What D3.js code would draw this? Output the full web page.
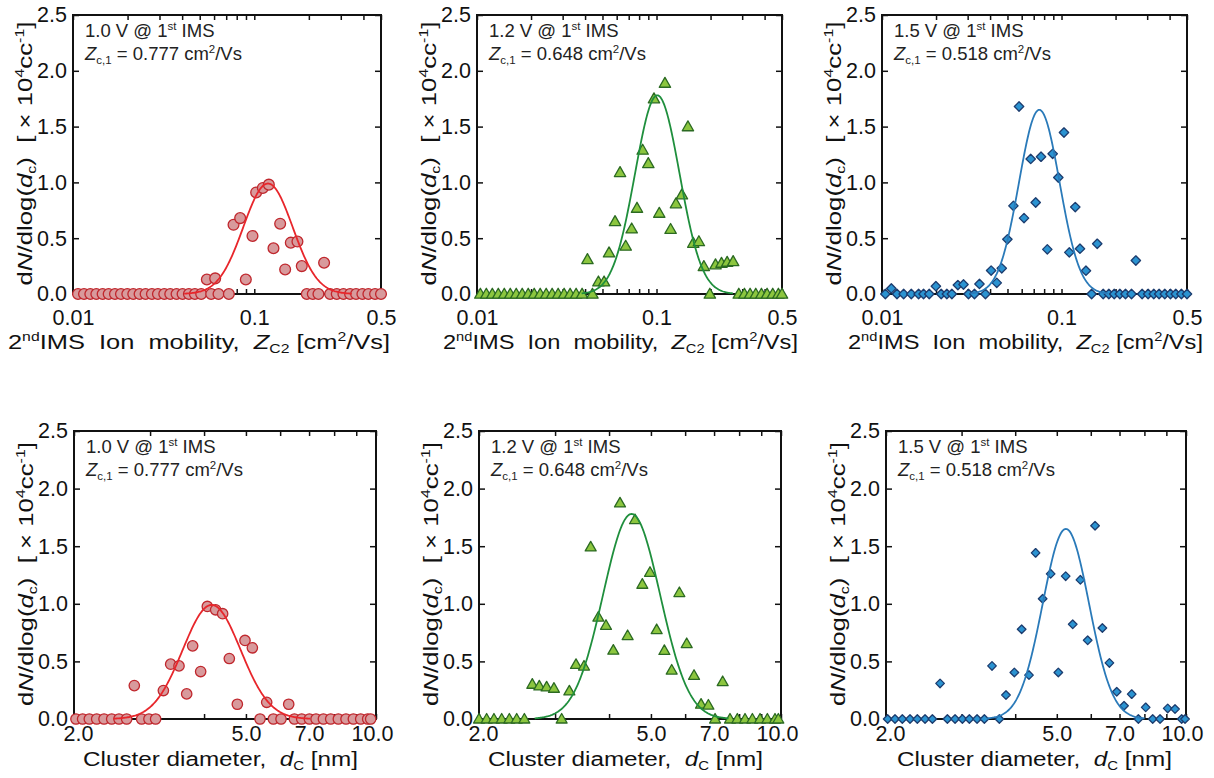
<!DOCTYPE html>
<html><head><meta charset="utf-8">
<script src="https://cdn.jsdelivr.net/npm/d3@7"></script>
<style>body{margin:0;background:#fff} text{white-space:pre}</style>
</head><body>
<svg id="chart" width="1214" height="778"></svg>
<script>
// ---------------- DATA ----------------
const yTicks = [0, 0.5, 1.0, 1.5, 2.0, 2.5];
const mobilityTicks = [0.01,0.02,0.03,0.04,0.05,0.06,0.07,0.08,0.09,0.1,0.2,0.3,0.4,0.5];
const mobilityLabelValues = [0.01, 0.1, 0.5];
const mobilityLabelTexts = ["0.01", "0.1", "0.5"];
const diameterTicks = [2,3,4,5,6,7,8,9,10];
const diameterLabelValues = [2, 5, 7, 10];
const diameterLabelTexts = ["2.0", "5.0", "7.0", "10.0"];
const voltages = ["1.0", "1.2", "1.5"];
const zc1Values = ["0.777", "0.648", "0.518"];

// [mobility Z_C2 (cm2/Vs), dN/dlog(dc) (x1e4 /cc)]
const mobility10 = [[0.01066,0],[0.0115,0],[0.01246,0],[0.01345,0],[0.01457,0],[0.01573,0],[0.01704,0],[0.01839,0],[0.01993,0],[0.0215,0],[0.0233,0],[0.02515,0],[0.02725,0],[0.02941,0],[0.03187,0],[0.03439,0],[0.03726,0],[0.04022,0],[0.04358,0],[0.04702,0],[0.05095,0],
 [0.05475,0.13],[0.05784,0],[0.06085,0.14],[0.06348,0],[0.07239,0],
 [0.07682,0.62],[0.08357,0.68],[0.08981,0.13],[0.09774,0.52],[0.1024,0.91],[0.1115,0.95],[0.1203,0.98],[0.1276,0.41],[0.1389,0.63],[0.148,0.22],[0.159,0.46],[0.173,0.47],[0.1828,0.25],
 [0.1948,0],[0.2102,0],[0.2259,0],[0.2427,0.28],
 [0.2619,0],[0.285,0],[0.3102,0],[0.3376,0],[0.3643,0],[0.3948,0],[0.426,0],[0.4637,0],[0.5,0]];
const mobility12 = [[0.01044,0],[0.01127,0],[0.01217,0],[0.01314,0],[0.01419,0],[0.01532,0],[0.01654,0],[0.01786,0],[0.01929,0],[0.02083,0],[0.02249,0],[0.02429,0],[0.02622,0],[0.02832,0],[0.03058,0],[0.03302,0],[0.03566,0],[0.0385,0],
 [0.04123,0.31],[0.04396,0],[0.04747,0.11],[0.05104,0.11],[0.0544,0.37],[0.05875,0.65],[0.06263,1.09],[0.06734,0.43],[0.07272,0.585],[0.07785,0.77],[0.08371,1.29],[0.09,1.17],[0.09679,1.75],[0.1036,0.725],[0.1114,1.89],[0.1198,0.58],[0.1283,0.81],[0.1385,0.89],[0.1496,1.5],[0.1602,0.456],[0.1722,0.47],[0.1835,0.248],[0.1982,0],[0.2131,0.263],[0.2301,0.277],[0.2474,0.286],[0.2672,0.292],
 [0.2873,0],[0.3088,0],[0.3321,0],[0.3571,0],[0.384,0],[0.4129,0],[0.444,0],[0.4773,0],[0.5,0]];
const mobility15 = [[0.01044,0],[0.01127,0.05],[0.01212,0],[0.0132,0],[0.01456,0],[0.01599,0],[0.01704,0],[0.01833,0],[0.01996,0.07],[0.02137,0],[0.02297,0],[0.0245,0],[0.02646,0.08],[0.02844,0.085],[0.03032,0],[0.03274,0],[0.03491,0.09],[0.03769,0],
 [0.04054,0.21],[0.04358,0.10],[0.04646,0.23],[0.04994,0.49],[0.05395,0.79],[0.05799,1.68],[0.06182,0.68],[0.06734,1.21],[0.0718,0.82],[0.07688,1.23],[0.08335,0.40],[0.08925,1.256],[0.09597,1.044],[0.1032,1.447],[0.1105,0.373],[0.1193,0.779],[0.1267,0.406],[0.1368,0.209],[0.1471,0],[0.1581,0.45],
 [0.1707,0],[0.1835,0],[0.1966,0],[0.2113,0],[0.2272,0],[0.2454,0],[0.2594,0.30],[0.2812,0],[0.3037,0],[0.3265,0],[0.3496,0],[0.376,0],[0.4044,0],[0.4328,0],[0.4653,0],[0.5,0]];

// [cluster diameter d_C (nm), dN/dlog(dc) (x1e4 /cc)]
const diameter10 = [[2.021,0],[2.094,0],[2.17,0],[2.257,0],[2.347,0],[2.445,0],[2.542,0],[2.648,0],[2.758,0.29],[2.868,0],[2.982,0],[3.09,0],
 [3.22,0.247],[3.348,0.476],[3.5,0.461],[3.646,0.218],[3.764,0.635],[3.928,0.412],[4.07,0.977],[4.255,0.948],[4.416,0.914],[4.576,0.525],[4.776,0.128],[4.975,0.682],[5.174,0.618],[5.39,0],[5.585,0.145],[5.787,0],[6.028,0],[6.28,0.128],
 [6.473,0],[6.731,0],[7.012,0],[7.265,0],[7.555,0],[7.855,0],[8.182,0],[8.523,0],[8.863,0],[9.217,0],[9.566,0],[9.72,0]];
const diameter12 = [[2.0,0],[2.083,0],[2.166,0],[2.257,0],[2.351,0],[2.445,0],[2.547,0],[2.657,0.302],[2.758,0.287],[2.868,0.279],[2.982,0.267],[3.107,0],
 [3.237,0.244],[3.354,0.474],[3.5,0.46],[3.627,1.494],[3.778,0.885],[3.935,0.813],[4.092,0.598],[4.24,1.876],[4.416,0.724],[4.593,1.73],[4.776,1.17],[4.975,1.273],[5.155,0.776],[5.371,0.595],[5.585,0.425],[5.818,1.098],[6.05,0.655],[6.291,0.379],[6.531,0.129],[6.791,0.121],[7.037,0],[7.328,0.325],
 [7.62,0],[7.924,0],[8.255,0],[8.585,0],[8.943,0],[9.299,0],[9.686,0],[9.859,0]];
const diameter15 = [[2.018,0],[2.099,0],[2.183,0],[2.275,0],[2.366,0],[2.466,0],[2.565,0],[2.673,0.309],[2.78,0],[2.897,0],[3.013,0],[3.128,0],[3.26,0],[3.39,0],
 [3.532,0.461],[3.674,0],[3.807,0.208],[3.982,0.404],[4.141,0.779],[4.307,0.381],[4.463,1.442],[4.634,1.044],[4.838,1.26],[5.041,0.404],[5.244,1.24],[5.446,0.822],[5.674,1.208],[5.901,0.683],[6.139,1.678],[6.385,0.79],[6.63,0.487],[6.896,0.236],[7.172,0.115],[7.473,0.216],
 [7.745,0],[8.056,0.101],[8.364,0],[8.7,0],[9.065,0.092],[9.428,0.0865],[9.77,0],[9.948,0]];

// Log-normal fit parameters (peak height, centre, sigma in log10 units)
const fitMobilityPeak = [0.99, 1.78, 1.65];
const fitMobilityCenter = [0.119, 0.101, 0.0752];
const fitMobilitySigma = [0.136, 0.124, 0.113];
const fitDiameterPeak = [0.99, 1.78, 1.65];
const fitDiameterCenter = [4.165, 4.51, 5.25];
const fitDiameterSigma = [0.067, 0.066, 0.054];

// ---------------- STYLE / LAYOUT ----------------
const FONT = "'Liberation Sans', Arial, Helvetica, sans-serif";
const styles = [
  {shape: "circle",  fill: "#d89a9c", stroke: "#c0272d", line: "#e8262b"},
  {shape: "triangle",fill: "#8cc63f", stroke: "#2b6a22", line: "#1f8f3d"},
  {shape: "diamond", fill: "#2b93d1", stroke: "#1c3c6e", line: "#2a7ab9"}
];
const topBoxes = [{l:73,t:15,r:381,b:294},{l:477,t:15,r:782,b:294},{l:882,t:15,r:1187,b:294}];
const botBoxes = [{l:74,t:431,r:376,b:719},{l:479,t:431,r:781,b:719},{l:886,t:431,r:1186,b:719}];
const topTitle = [{x:8,len:382},{x:443,len:355},{x:848,len:355}];
const botTitle = [{x:83,len:275},{x:488,len:275},{x:897,len:275}];

const mobilitySets = [mobility10, mobility12, mobility15];
const diameterSets = [diameter10, diameter12, diameter15];

const svg = d3.select("#chart");

function addRich(textSel, parts, fs) {
  let offset = 0;
  parts.forEach(p => {
    if (typeof p === "string") p = {t: p};
    const target = p.s === "sup" ? -fs * 0.38 : p.s === "sub" ? fs * 0.22 : 0;
    const ts = textSel.append("tspan").text(p.t);
    if (target - offset !== 0) ts.attr("dy", target - offset);
    offset = target;
    if (p.s) ts.attr("font-size", fs * 0.62);
    if (p.i) ts.attr("font-style", "italic");
  });
}

function markerPath(shape, cx, cy, sz) {
  if (shape === "triangle") {
    const w = sz * 1.05, h = sz * 0.92;
    return `M${cx},${cy - h * 0.58}L${cx + w / 2},${cy + h * 0.42}L${cx - w / 2},${cy + h * 0.42}Z`;
  }
  const r = sz * 0.5;
  return `M${cx},${cy - r}L${cx + r},${cy}L${cx},${cy + r}L${cx - r},${cy}Z`;
}

function drawPanel(box, opts) {
  const g = svg.append("g");
  const x = d3.scaleLog().domain(opts.domain).range([box.l, box.r]);
  const y = d3.scaleLinear().domain([0, 2.5]).range([box.b, box.t]);
  const st = styles[opts.idx];
  const labelMap = new Map(opts.labelValues.map((v, k) => [v, opts.labelTexts[k]]));

  // axes (ticks inward)
  const left = g.append("g").attr("transform", `translate(${box.l},0)`)
    .call(d3.axisLeft(y).tickValues(yTicks).tickSize(-6).tickPadding(6).tickFormat(d3.format(".1f")));
  const right = g.append("g").attr("transform", `translate(${box.r},0)`)
    .call(d3.axisRight(y).tickValues(yTicks).tickSize(-6).tickFormat(""));
  const bottom = g.append("g").attr("transform", `translate(0,${box.b})`)
    .call(d3.axisBottom(x).tickValues(opts.ticks).tickSize(-5).tickPadding(opts.pad).tickFormat(d => labelMap.get(d) || ""));
  const top = g.append("g").attr("transform", `translate(0,${box.t})`)
    .call(d3.axisTop(x).tickValues(opts.ticks).tickSize(-5).tickFormat(""));
  [left, right, bottom, top].forEach(a => {
    a.select(".domain").remove();
    a.attr("font-family", FONT).attr("font-size", 21.5);
    a.selectAll("line").attr("stroke", "#111").attr("stroke-width", 1.5);
    a.selectAll("text").attr("fill", "#111");
  });
  bottom.selectAll("text").attr("dx", d => d === opts.domain[0] ? opts.edgeShift : d === opts.domain[1] ? -opts.edgeShift : 0);

  // frame
  g.append("rect").attr("x", box.l).attr("y", box.t)
    .attr("width", box.r - box.l).attr("height", box.b - box.t)
    .attr("fill", "none").attr("stroke", "#111").attr("stroke-width", 2);

  // markers
  const mk = g.append("g");
  opts.data.forEach(d => {
    const cx = x(d[0]), cy = y(d[1]);
    if (st.shape === "circle") {
      mk.append("circle").attr("cx", cx).attr("cy", cy).attr("r", opts.size / 2)
        .attr("fill", st.fill).attr("stroke", st.stroke).attr("stroke-width", 1.3);
    } else {
      mk.append("path").attr("d", markerPath(st.shape, cx, cy, opts.size))
        .attr("fill", st.fill).attr("stroke", st.stroke).attr("stroke-width", 1.3)
        .attr("stroke-linejoin", "round");
    }
  });

  // fit curve
  const lc = Math.log10(opts.center), s = opts.sigma;
  const lo = Math.max(Math.log10(opts.domain[0]), lc - 3.4 * s);
  const hi = Math.min(Math.log10(opts.domain[1]), lc + 3.4 * s);
  const curve = d3.range(0, 201).map(k => {
    const lx = lo + (hi - lo) * k / 200;
    return [Math.pow(10, lx), opts.peak * Math.exp(-0.5 * Math.pow((lx - lc) / s, 2))];
  });
  g.append("path").datum(curve)
    .attr("d", d3.line().x(d => x(d[0])).y(d => y(d[1])).curve(d3.curveLinear))
    .attr("fill", "none").attr("stroke", st.line).attr("stroke-width", 1.8);

  // annotation
  const a1 = g.append("text").attr("x", box.l + 12).attr("y", box.t + 22)
    .attr("font-family", FONT).attr("font-size", 18.5).attr("fill", "#222");
  addRich(a1, [voltages[opts.idx] + " V @ 1", {t: "st", s: "sup"}, " IMS"], 18.5);
  const a2 = g.append("text").attr("x", box.l + 12).attr("y", box.t + 45)
    .attr("font-family", FONT).attr("font-size", 18.5).attr("fill", "#222");
  addRich(a2, [{t: "Z", i: true}, {t: "c,1", s: "sub"}, " = " + zc1Values[opts.idx] + " cm", {t: "2", s: "sup"}, "/Vs"], 18.5);

  // y title (horizontally stretched glyphs as in the reference)
  const cyT = (box.t + box.b) / 2 - 1;
  const yt = g.append("text").attr("transform", `translate(${box.l - 41},${cyT}) rotate(-90)`)
    .attr("text-anchor", "middle").attr("font-family", FONT).attr("font-size", 20).attr("fill", "#111")
    .attr("textLength", 264).attr("lengthAdjust", "spacingAndGlyphs");
  addRich(yt, ["d", {t: "N", i: true}, "/dlog(", {t: "d", i: true}, {t: "c", s: "sub"}, ")  [ \u00d7 10", {t: "4", s: "sup"}, "cc", {t: "-1", s: "sup"}, "]"], 20);

  // x title
  const xt = g.append("text").attr("x", opts.title.x).attr("y", opts.titleY)
    .attr("font-family", FONT).attr("font-size", 20).attr("fill", "#111")
    .attr("textLength", opts.title.len).attr("lengthAdjust", "spacingAndGlyphs");
  addRich(xt, opts.titleParts, 20);
}

for (let i = 0; i < 3; i++) {
  drawPanel(topBoxes[i], {
    idx: i, domain: [0.01, 0.5], ticks: mobilityTicks,
    labelValues: mobilityLabelValues, labelTexts: mobilityLabelTexts, pad: 16, edgeShift: 0,
    data: mobilitySets[i], peak: fitMobilityPeak[i], center: fitMobilityCenter[i], sigma: fitMobilitySigma[i],
    size: [10.8, 10.8, 9.4][i], title: topTitle[i], titleY: 349,
    titleParts: ["2", {t: "nd", s: "sup"}, "IMS  Ion  mobility,  ", {t: "Z", i: true}, {t: "C2", s: "sub"}, " [cm", {t: "2", s: "sup"}, "/Vs]"]
  });
  drawPanel(botBoxes[i], {
    idx: i, domain: [2, 10], ticks: diameterTicks,
    labelValues: diameterLabelValues, labelTexts: diameterLabelTexts, pad: 7, edgeShift: 4,
    data: diameterSets[i], peak: fitDiameterPeak[i], center: fitDiameterCenter[i], sigma: fitDiameterSigma[i],
    size: [10.4, 10.4, 8.6][i], title: botTitle[i], titleY: 766,
    titleParts: ["Cluster diameter,  ", {t: "d", i: true}, {t: "C", s: "sub"}, " [nm]"]
  });
}
</script>
</body></html>
